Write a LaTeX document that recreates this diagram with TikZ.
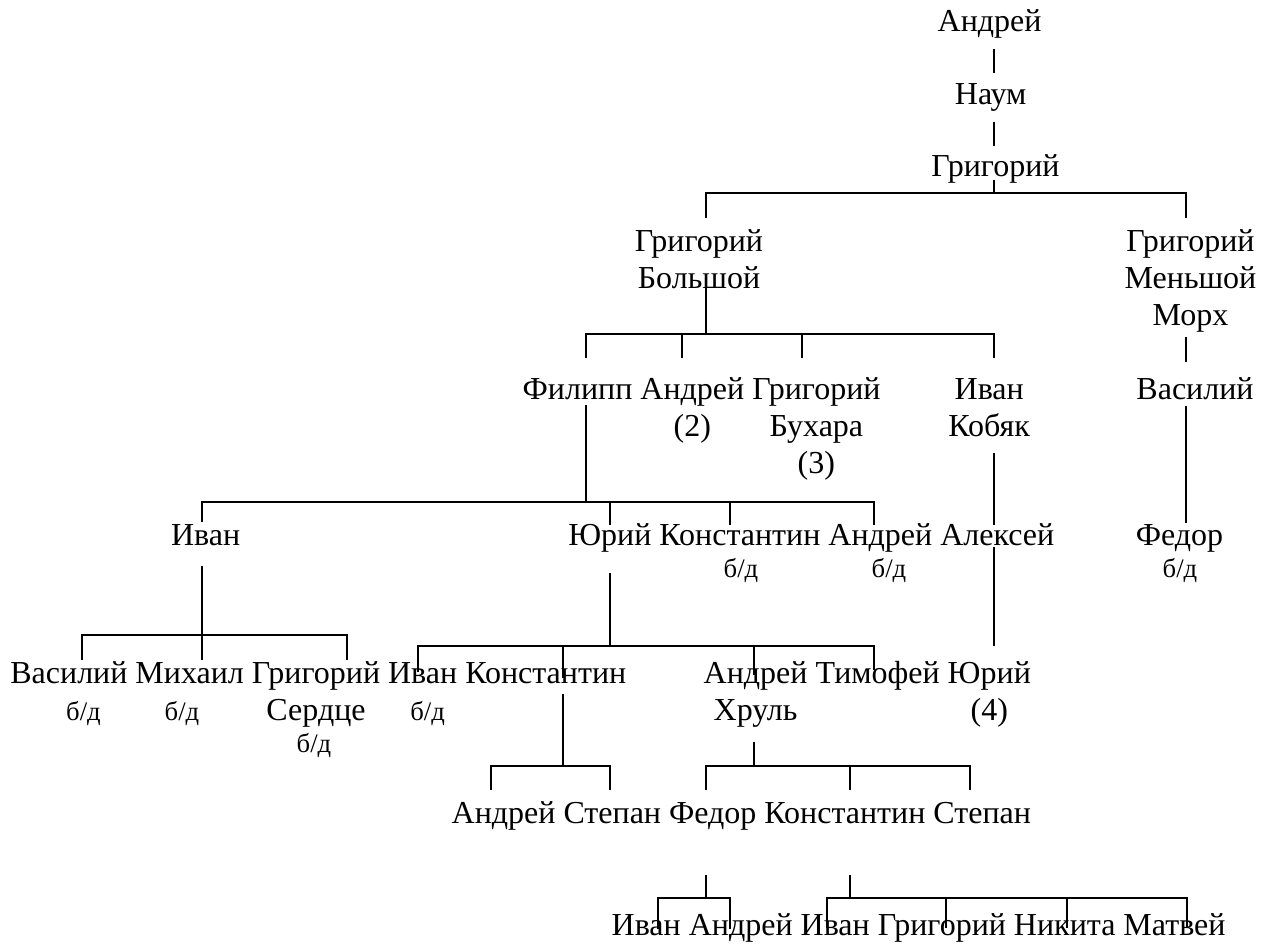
\documentclass[tikz,border=0pt]{standalone}
\usepackage{fontspec}
\setmainfont{Liberation Serif}
\newcommand\mlii[2]{\vtop{\halign{\hfil##\hfil\cr#1\cr#2\cr}}}
\newcommand\mliii[3]{\vtop{\halign{\hfil##\hfil\cr#1\cr#2\cr#3\cr}}}
\begin{document}
\begin{tikzpicture}[x=0.375pt,y=-0.375pt,line width=0.75pt,
  person/.style={font=\fontsize{12}{13.8}\selectfont,inner sep=0pt,outer sep=0pt,anchor=base},
  rowstart/.style={person,anchor=base west},
  bd/.style={font=\fontsize{10}{11.5}\selectfont,inner sep=0pt,outer sep=0pt,anchor=base},
  link/.style={draw=black,line cap=butt}]
\useasboundingbox (0,0) rectangle (1272,945);
\def\sp{3pt}
% ---- nodes ----
\node[person] (andrey0) at (989.6,31.7) {Андрей};
\node[person] (naum) at (990.7,105) {Наум};
\node[person] (grig1) at (995.4,176.7) {Григорий};
\node[person] (grigB) at (699,251.7) {\mlii{Григорий}{Большой}};
\node[person] (grigM) at (1190.5,251.7) {\mliii{Григорий}{Меньшой}{Морх}};
% row 4
\node[rowstart] (filipp) at (522.7,399.5) {Филипп};
\node[rowstart] (andrey2) at ([xshift=\sp]filipp.base east) {\mlii{Андрей}{(2)}};
\node[rowstart] (grigBuh) at ([xshift=\sp]andrey2.base east) {\mliii{Григорий}{Бухара}{(3)}};
\node[person] (ivanK) at (989.2,399.5) {\mlii{Иван}{Кобяк}};
\node[person] (vasM) at (1195,399.5) {Василий};
% row 5
\node[person] (ivan1) at (205.7,545.5) {Иван};
\node[rowstart] (yuri1) at (568.3,545.5) {Юрий};
\node[rowstart] (konst1) at ([xshift=\sp]yuri1.base east) {Константин};
\node[rowstart] (andrey3) at ([xshift=\sp]konst1.base east) {Андрей};
\node[rowstart] (aleksey) at ([xshift=\sp]andrey3.base east) {Алексей};
\node[person] (fedorM) at (1179.5,545.5) {Федор};
\node[bd] (konst1bd) at (741,577.5) {б/д};
\node[bd] (andrey3bd) at (889,577.5) {б/д};
\node[bd] (fedorMbd) at (1180,577.5) {б/д};
% row 6
\node[rowstart] (vasI) at (10.4,683.3) {Василий};
\node[rowstart] (mikhail) at ([xshift=\sp]vasI.base east) {Михаил};
\node[rowstart] (grigS) at ([xshift=\sp]mikhail.base east) {\mlii{Григорий}{Сердце}};
\node[rowstart] (ivan2) at ([xshift=\sp]grigS.base east) {Иван};
\node[rowstart] (konst2) at ([xshift=\sp]ivan2.base east) {Константин};
\node[rowstart] (andreyH) at (703.7,683.3) {\mlii{Андрей}{Хруль}};
\node[rowstart] (timofey) at ([xshift=\sp]andreyH.base east) {Тимофей};
\node[rowstart] (yuri2) at ([xshift=\sp]timofey.base east) {\mlii{Юрий}{(4)}};
\node[bd] (vasIbd) at (83.5,720) {б/д};
\node[bd] (mikhailbd) at (182,720) {б/д};
\node[bd] (grigSbd) at (314,752) {б/д};
\node[bd] (ivan2bd) at (427.6,720) {б/д};
% row 7
\node[rowstart] (andrey4) at (451.7,823.3) {Андрей};
\node[rowstart] (stepan1) at ([xshift=\sp]andrey4.base east) {Степан};
\node[rowstart] (fedor2) at ([xshift=\sp]stepan1.base east) {Федор};
\node[rowstart] (konst3) at ([xshift=\sp]fedor2.base east) {Константин};
\node[rowstart] (stepan2) at ([xshift=\sp]konst3.base east) {Степан};
% row 8
\node[rowstart] (ivan3) at (611.7,935) {Иван};
\node[rowstart] (andrey5) at ([xshift=\sp]ivan3.base east) {Андрей};
\node[rowstart] (ivan4) at ([xshift=\sp]andrey5.base east) {Иван};
\node[rowstart] (grig5) at ([xshift=\sp]ivan4.base east) {Григорий};
\node[rowstart] (nikita) at ([xshift=\sp]grig5.base east) {Никита};
\node[rowstart] (matvey) at ([xshift=\sp]nikita.base east) {Матвей};
% ---- connector end points ----
\coordinate (andrey0-b) at (994.3,49.3);
\coordinate (naum-t) at (994.3,73.3);
\coordinate (naum-b) at (994.3,121.7);
\coordinate (grig1-t) at (994.3,145.7);
\coordinate (grig1-b) at (994.3,180);
\coordinate (bus1) at (0,193);
\coordinate (grigB-t) at (705.9,218);
\coordinate (grigM-t) at (1186.3,218);
\coordinate (grigB-b) at (705.9,288);
\coordinate (bus2) at (0,334);
\coordinate (filipp-t) at (585.7,358);
\coordinate (andrey2-t) at (682.3,358);
\coordinate (grigBuh-t) at (802.3,358);
\coordinate (ivanK-t) at (994.3,358);
\coordinate (grigM-b) at (1186.3,336.7);
\coordinate (vasM-t) at (1186.3,361.7);
\coordinate (vasM-b) at (1186.3,406);
\coordinate (fedorM-t) at (1186.3,523.3);
\coordinate (ivanK-b) at (994.3,453.3);
\coordinate (aleksey-t) at (994.3,525);
\coordinate (aleksey-b) at (994.3,547);
\coordinate (yuri2-t) at (994.3,646);
\coordinate (filipp-b) at (585.7,405);
\coordinate (bus3) at (0,501.7);
\coordinate (ivan1-t) at (201.9,522);
\coordinate (yuri1-t) at (609.8,525);
\coordinate (konst1-t) at (730,525);
\coordinate (andrey3-t) at (874.3,525);
\coordinate (ivan1-b) at (201.9,566);
\coordinate (bus4) at (0,635);
\coordinate (vasI-t) at (81.7,660);
\coordinate (mikhail-t) at (201.9,660);
\coordinate (grigS-t) at (346.5,660);
\coordinate (yuri1-b) at (609.8,573.3);
\coordinate (bus5) at (0,645.5);
\coordinate (ivan2-t) at (418.3,671.7);
\coordinate (konst2-t) at (562.5,678);
\coordinate (andreyH-t) at (754.3,675);
\coordinate (timofey-t) at (874.3,670);
\coordinate (konst2-b) at (562.5,694);
\coordinate (bus6) at (0,766);
\coordinate (andrey4-t) at (490.7,790);
\coordinate (stepan1-t) at (610,790);
\coordinate (andreyH-b) at (754.3,741.7);
\coordinate (fedor2-t) at (706,790);
\coordinate (konst3-t) at (850.3,790);
\coordinate (stepan2-t) at (970,790);
\coordinate (fedor2-b) at (706,875);
\coordinate (bus7) at (0,898.3);
\coordinate (ivan3-t) at (658.3,929);
\coordinate (andrey5-t) at (730,929);
\coordinate (konst3-b) at (850.3,875);
\coordinate (ivan4-t) at (827,928);
\coordinate (grig5-t) at (946,928);
\coordinate (nikita-t) at (1066.7,928);
\coordinate (matvey-t) at (1186.7,928);
% ---- connectors ----
\draw[link] (andrey0-b) -- (naum-t);
\draw[link] (naum-b) -- (grig1-t);
% Григорий -> сыновья
\draw[link] (grig1-b) -- (grig1-b |- bus1);
\draw[link] (grigB-t) -- (grigB-t |- bus1) -- (grigM-t |- bus1) -- (grigM-t);
% Григорий Большой
\draw[link] (grigB-b) -- (grigB-b |- bus2);
\draw[link] (filipp-t) -- (filipp-t |- bus2) -- (ivanK-t |- bus2) -- (ivanK-t);
\draw[link] (andrey2-t) -- (andrey2-t |- bus2);
\draw[link] (grigBuh-t) -- (grigBuh-t |- bus2);
% Григорий Меньшой
\draw[link] (grigM-b) -- (vasM-t);
\draw[link] (vasM-b) -- (fedorM-t);
% Иван Кобяк
\draw[link] (ivanK-b) -- (aleksey-t);
\draw[link] (aleksey-b) -- (yuri2-t);
% Филипп
\draw[link] (filipp-b) -- (filipp-b |- bus3);
\draw[link] (ivan1-t) -- (ivan1-t |- bus3) -- (andrey3-t |- bus3) -- (andrey3-t);
\draw[link] (yuri1-t) -- (yuri1-t |- bus3);
\draw[link] (konst1-t) -- (konst1-t |- bus3);
% Иван
\draw[link] (ivan1-b) -- (mikhail-t);
\draw[link] (vasI-t) -- (vasI-t |- bus4) -- (grigS-t |- bus4) -- (grigS-t);
% Юрий
\draw[link] (yuri1-b) -- (yuri1-b |- bus5);
\draw[link] (ivan2-t) -- (ivan2-t |- bus5) -- (timofey-t |- bus5) -- (timofey-t);
\draw[link] (konst2-t) -- (konst2-t |- bus5);
\draw[link] (andreyH-t) -- (andreyH-t |- bus5);
% Константин
\draw[link] (konst2-b) -- (konst2-b |- bus6);
\draw[link] (andrey4-t) -- (andrey4-t |- bus6) -- (stepan1-t |- bus6) -- (stepan1-t);
% Андрей Хруль
\draw[link] (andreyH-b) -- (andreyH-b |- bus6);
\draw[link] (fedor2-t) -- (fedor2-t |- bus6) -- (stepan2-t |- bus6) -- (stepan2-t);
\draw[link] (konst3-t) -- (konst3-t |- bus6);
% Федор
\draw[link] (fedor2-b) -- (fedor2-b |- bus7);
\draw[link] (ivan3-t) -- (ivan3-t |- bus7) -- (andrey5-t |- bus7) -- (andrey5-t);
% Константин
\draw[link] (konst3-b) -- (konst3-b |- bus7);
\draw[link] (ivan4-t) -- (ivan4-t |- bus7) -- (matvey-t |- bus7) -- (matvey-t);
\draw[link] (grig5-t) -- (grig5-t |- bus7);
\draw[link] (nikita-t) -- (nikita-t |- bus7);
\end{tikzpicture}
\end{document}
